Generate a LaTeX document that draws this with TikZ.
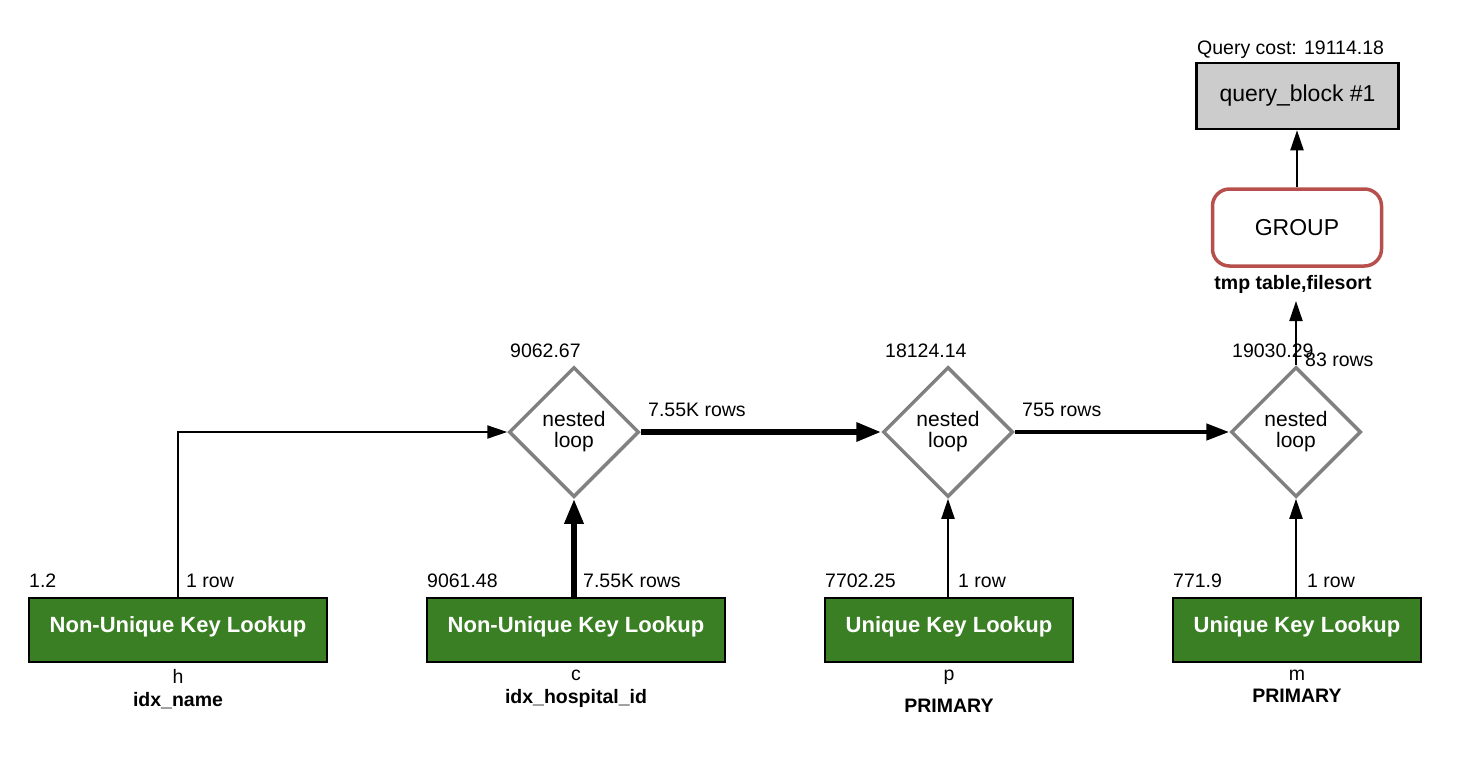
\documentclass[tikz,border=0pt]{standalone}
\usepackage{fontspec}
\setmainfont{Liberation Sans}
\usepackage{tikz}
\usetikzlibrary{arrows.meta,shapes.geometric,positioning}
\definecolor{lookupgreen}{RGB}{58,127,35}
\definecolor{loopgray}{RGB}{128,128,128}
\definecolor{groupred}{RGB}{183,80,76}
\definecolor{blockgray}{RGB}{204,204,204}
\newcommand{\costfont}{\fontsize{19.5pt}{21pt}\selectfont}
\newcommand{\loopfont}{\fontsize{21pt}{21pt}\selectfont}
\newcommand{\opfont}{\fontsize{22pt}{24pt}\selectfont\bfseries}
\newcommand{\blockfont}{\fontsize{23pt}{25pt}\selectfont}

\begin{document}
\begin{tikzpicture}[x=1pt,y=-1pt,every node/.style={inner sep=0pt},
    cost/.style={font=\costfont,anchor=base west},
    tblname/.style={font=\costfont,anchor=base},
    keyname/.style={font=\costfont\bfseries,anchor=base},
    lookup/.style={draw=black,line width=2.5pt,fill=lookupgreen,text=white,
                   font=\opfont,minimum height=64pt,text height=16pt,text depth=12pt},
    nloop/.style={diamond,draw=loopgray,line width=3.5pt,minimum width=130pt,
                  minimum height=130pt,align=center,font=\loopfont},
    thinflow/.style={line width=2pt,-{Triangle[length=20pt,width=13pt]}},
    midflow/.style={line width=4.5pt,-{Triangle[length=23pt,width=16pt]}},
    bigflow/.style={line width=6pt,-{Triangle[length=25pt,width=18pt]}}]
    \useasboundingbox (0,0) rectangle (1476,756);

    \node[draw=black,line width=2.5pt,fill=blockgray,font=\blockfont,
          minimum width=202pt,minimum height=66pt] (qb) at (1297.5,96) {query\_block \#1};
    \node[cost] (qcost) at (1197,54) {Query cost: 19114.18};
    \node[draw=groupred,line width=3.5pt,rounded corners=17pt,font=\blockfont,
          minimum width=169pt,minimum height=77pt] (grp) at (1297,227.5) {GROUP};
    \node[keyname] (grpnote) at (1293,289) {tmp table,filesort};
    \coordinate (grpin) at (1296,301);

    \node[nloop] (nl1) at (574,432) {nested\\loop};
    \node[nloop] (nl2) at (948,432) {nested\\loop};
    \node[nloop] (nl3) at (1296,432) {nested\\loop};
    \node[cost] (nl1cost) at (510,357) {9062.67};
    \node[cost] (nl2cost) at (885,357) {18124.14};
    \node[cost] (nl3cost) at (1232,357) {19030.29};

    \node[lookup,minimum width=298pt] (h) at (178,630) {Non-Unique Key Lookup};
    \node[lookup,minimum width=298pt] (c) at (576,630) {Non-Unique Key Lookup};
    \node[lookup,minimum width=248pt] (p) at (949,630) {Unique Key Lookup};
    \node[lookup,minimum width=248pt] (m) at (1297,630) {Unique Key Lookup};

    \node[cost] (hcost) at (29,587) {1.2};
    \node[cost] (ccost) at (427,587) {9061.48};
    \node[cost] (pcost) at (825,587) {7702.25};
    \node[cost] (mcost) at (1173,587) {771.9};
    \node[cost] (hrows) at (186,587) {1 row};
    \node[cost] (crows) at (583,587) {7.55K rows};
    \node[cost] (prows) at (958,587) {1 row};
    \node[cost] (mrows) at (1307,587) {1 row};
    \node[cost] (nl1rows) at (648,416) {7.55K rows};
    \node[cost] (nl2rows) at (1022,416) {755 rows};
    \node[cost] (nl3rows) at (1305,366) {83 rows};

    \node[tblname] (htbl) at (178,683) {h};
    \node[tblname] (ctbl) at (576,680) {c};
    \node[tblname] (ptbl) at (949,680) {p};
    \node[tblname] (mtbl) at (1297,680) {m};
    \node[keyname] (hkey) at (178,706) {idx\_name};
    \node[keyname] (ckey) at (576,703) {idx\_hospital\_id};
    \node[keyname] (pkey) at (949,712) {PRIMARY};
    \node[keyname] (mkey) at (1297,702) {PRIMARY};

    \draw[thinflow] (h.north) |- (nl1.west);
    \draw[bigflow] (nl1.south |- c.north) -- (nl1.south);
    \draw[bigflow] (nl1.east) -- (nl2.west);
    \draw[thinflow] (nl2.south |- p.north) -- (nl2.south);
    \draw[midflow] (nl2.east) -- (nl3.west);
    \draw[thinflow] (nl3.south |- m.north) -- (nl3.south);
    \draw[thinflow] (nl3.north) -- (grpin);
    \draw[thinflow] (grp.north) -- (grp.north |- qb.south);
\end{tikzpicture}
\end{document}
